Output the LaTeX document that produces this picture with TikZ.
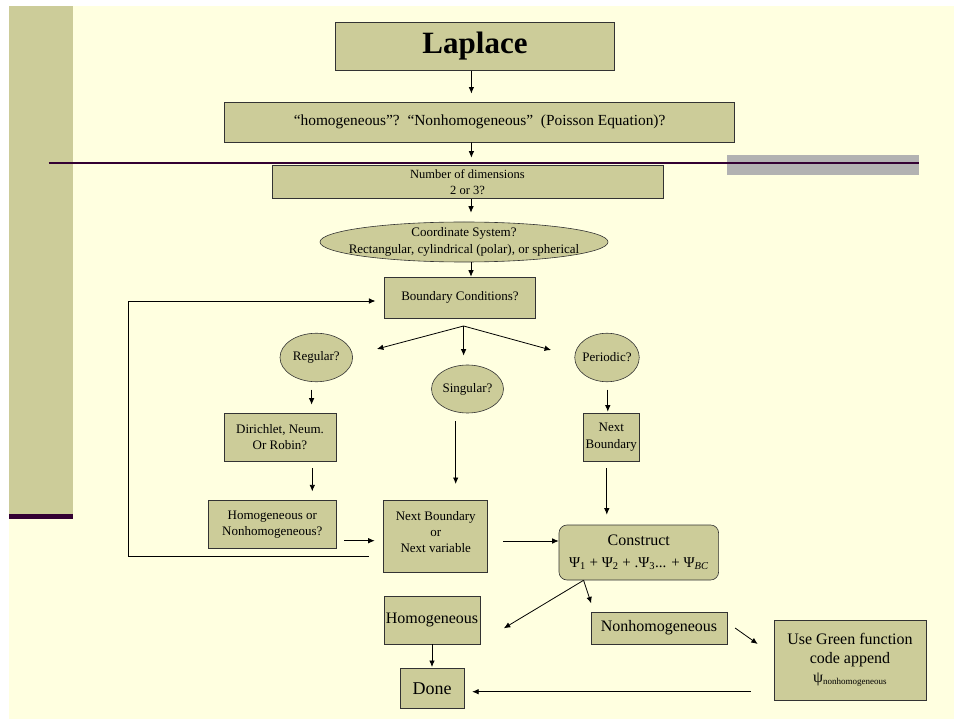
\documentclass[tikz,border=0pt]{standalone}
\usepackage{fontspec}
\setmainfont{Liberation Serif}
\usetikzlibrary{shapes.geometric,arrows.meta,calc}

\definecolor{slidebg}{RGB}{255,255,224}
\definecolor{boxfill}{RGB}{204,204,153}
\definecolor{plum}{RGB}{51,0,51}
\definecolor{bargray}{RGB}{178,178,178}

\tikzset{
    box/.style={draw=black!80, fill=boxfill, line width=0.6pt, inner sep=0pt, align=center,
        font=\fontsize{13}{16.5}\selectfont},
    bubble/.style={box, ellipse, inner xsep=-10pt, inner ysep=-2pt},
    flow/.style={->, line width=0.8pt},
    >={Latex[length=6.5pt,width=5.5pt]}
}

\begin{document}
\begin{tikzpicture}[x=1pt, y=-1pt]
    \useasboundingbox (0,0) rectangle (954,719);
    % slide background
    \fill[slidebg] (9,6) rectangle (954,719);
    \fill[boxfill] (9,6) rectangle (72.7,514);
    \fill[plum] (9,514) rectangle (72.7,519);
    \fill[bargray] (727,155) rectangle (918.5,174.7);
    \draw[plum, line width=2pt] (48.7,162.7) -- (918.5,162.7);

    % boxes
    \node[box, minimum width=278.6, minimum height=48.4, font=\fontsize{31}{34}\selectfont\bfseries] (laplace) at (475,46.5) {Laplace};
    \node[box, minimum width=510, minimum height=40.3, font=\fontsize{15.4}{18}\selectfont] (kind) at (479.6,122) {“homogeneous”?~~“Nonhomogeneous”~~(Poisson Equation)?};
    \node[box, minimum width=391, minimum height=32.6, font=\fontsize{12.5}{16}\selectfont] (dims) at (467.5,182) {Number of dimensions\\2 or 3?};
    \node[bubble, inner xsep=-17pt, minimum width=288, minimum height=40] (coords) at (464,242) {Coordinate System?\\Rectangular, cylindrical (polar), or spherical};
    \node[box, minimum width=151.5, minimum height=41] (bc) at (460,297.5) {Boundary Conditions?};
    \node[bubble, minimum width=72.6, minimum height=48.5] (regular) at (316.3,357.5) {Regular?};
    \node[bubble, minimum width=72, minimum height=48] (singular) at (467.5,389) {Singular?};
    \node[bubble, minimum width=64.5, minimum height=48.5] (periodic) at (607,357.5) {Periodic?};
    \node[box, minimum width=112, minimum height=48] (dirichlet) at (280,437) {Dirichlet, Neum.\\Or Robin?};
    \node[box, minimum width=56.6, minimum height=48] (nextb) at (611.3,437) {Next\\Boundary};
    \node[box, minimum width=128, minimum height=48] (homnon) at (272.3,524.7) {Homogeneous or\\Nonhomogeneous?};
    \node[box, minimum width=104, minimum height=72, font=\fontsize{13}{16}\selectfont] (nextbv) at (435.7,536.7) {Next Boundary\\or\\Next variable\\[-6pt]};
    \node[box, rounded corners=8pt, minimum width=159.6, minimum height=55, font=\fontsize{16}{26}\selectfont] (construct) at (638.8,552.5)
        {Construct\\[-4pt]{\fontsize{15}{18}\selectfont Ψ\textsubscript{1} + Ψ\textsubscript{2} + .Ψ\textsubscript{3}... + Ψ\textsubscript{\itshape BC}}};
    \node[box, minimum width=96, minimum height=48, font=\fontsize{16}{19}\selectfont] (homo) at (432,620) {Homogeneous};
    \node[box, minimum width=136, minimum height=32, font=\fontsize{16}{19}\selectfont] (nonhomo) at (659,628) {Nonhomogeneous};
    \node[box, minimum width=152, minimum height=80, font=\fontsize{16}{19}\selectfont] (green) at (850,660)
        {Use Green function\\code append\\ψ\textsubscript{\fontsize{9}{10}\selectfont nonhomogeneous}};
    \node[box, minimum width=64.3, minimum height=40, font=\fontsize{18}{21}\selectfont] (done) at (432,688.3) {Done};

    % connectors
    \draw[flow] ($(laplace.south)+(-3.6,0)$) -- ($(kind.north)+(-8.2,-8)$);
    \draw[flow] ($(kind.south)+(-8.2,0)$) -- ($(dims.north)+(3.9,-7.7)$);
    \draw[flow] ($(dims.south)+(3.5,0)$) -- ($(coords.north)+(7,-9)$);
    \draw[flow] ($(coords.south)+(7,0)$) -- ($(bc.north)+(11,0)$);
    \coordinate (fork) at ($(bc.south)+(3.6,7.7)$);
    \draw[flow] (fork) -- ($(regular.east)+(24,-8.5)$);
    \draw[flow] (fork) -- ($(singular.north)+(-3.9,-9)$);
    \draw[flow] (fork) -- ($(periodic.west)+(-23.4,-7.5)$);
    \draw[flow] ($(regular.south)+(-4.7,7.5)$) -- ($(dirichlet.north)+(31.6,-8)$);
    \draw[flow] ($(periodic.south)+(0.8,7.5)$) -- ($(nextb.north)+(-3.5,-1)$);
    \draw[flow] ($(singular.south)+(-11.8,8)$) -- ($(nextbv.north)+(20,-16.4)$);
    \draw[flow] ($(dirichlet.south)+(32.3,7)$) -- ($(homnon.north)+(40,-9)$);
    \draw[flow] ($(nextb.south)+(-4.5,7)$) -- ($(construct.north)+(-32,-10)$);
    \draw[flow] ($(homnon.east)+(7.7,16)$) -- ($(nextbv.west)+(-8.7,4)$);
    \draw[flow] ($(nextbv.east)+(15.3,4.3)$) -- ($(construct.west)+(0,-11.5)$);
    % loop back to the boundary conditions
    \coordinate (back) at ($(homnon.south east)+(32,7.3)$);
    \draw[flow] (back) -| ($(bc.west)+(-256,3.5)$) -- ($(bc.west)+(-8.5,3.5)$);
    % split after construct
    \coordinate (split) at ($(construct.south)+(-55.2,0)$);
    \draw[flow] (split) -- ($(homo.east)+(23.5,8.3)$);
    \draw[flow] (split) -- ($(nonhomo.north)+(-67.8,-8.3)$);
    \draw[flow] ($(nonhomo.east)+(7.8,0)$) -- ($(green.west)+(-16,-16)$);
    \draw[flow, shorten >=1pt] (homo.south) -- (done.north);
    \draw[flow] ($(green.west)+(-23,31.7)$) -- ($(done.east)+(7.7,3.4)$);
\end{tikzpicture}
\end{document}
